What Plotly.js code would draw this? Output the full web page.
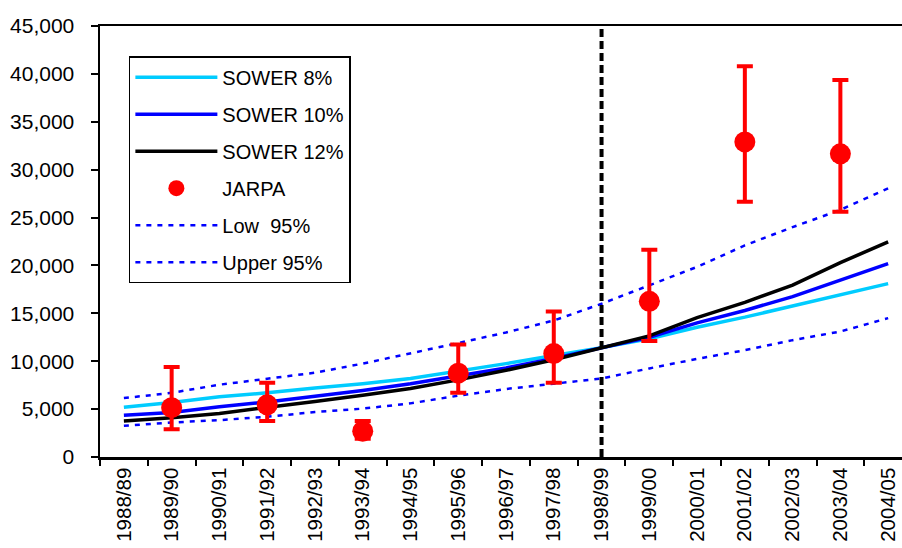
<!DOCTYPE html>
<html>
<head>
<meta charset="utf-8">
<script src="https://cdn.plot.ly/plotly-3.0.1.min.js"></script>
<style>html,body{margin:0;padding:0;background:#fff}#chart{width:902px;height:548px}</style>
</head>
<body>
<div id="chart"></div>
<script>
const seasons = ['1988/89','1989/90','1990/91','1991/92','1992/93','1993/94','1994/95','1995/96','1996/97','1997/98','1998/99','1999/00','2000/01','2001/02','2002/03','2003/04','2004/05'];
const sower8  = [5200,5700,6300,6700,7200,7650,8200,8950,9750,10600,11420,12350,13550,14600,15750,16900,18100];
const sower10 = [4350,4650,5250,5750,6350,6950,7650,8450,9300,10300,11420,12500,14000,15300,16750,18500,20200];
const sower12 = [3750,4100,4550,5150,5800,6450,7150,8050,9050,10150,11420,12650,14550,16150,17950,20300,22450];
const low95   = [3250,3600,3850,4200,4700,5050,5600,6400,7100,7650,8200,9250,10250,11150,12200,13100,14500];
const upper95 = [6150,6700,7550,8200,8800,9750,10800,11900,13000,14250,16000,17900,19850,22100,24000,25800,28050];
const jarpaSeasons = ['1989/90','1991/92','1993/94','1995/96','1997/98','1999/00','2001/02','2003/04'];
const jarpaValues  = [5150,5450,2700,8750,10800,16250,32900,31650];
const jarpaUpper   = [9400,7750,3750,11750,15200,21650,40800,39350];
const jarpaLower   = [2900,3750,1900,6700,7750,12100,26650,25600];
const cutoffSeason = '1998/99';
const yMax = 45000;

const font = 'Liberation Sans, Arial, sans-serif';
const traces = [
  {x: seasons, y: low95, name: 'Low  95%', mode: 'lines', line: {color: '#0000FF', width: 2.5, dash: '5px,6px'}, legendrank: 5, legendgroup: 'e'},
  {x: seasons, y: upper95, name: 'Upper 95%', mode: 'lines', line: {color: '#0000FF', width: 2.5, dash: '5px,6px'}, legendrank: 6, legendgroup: 'f'},
  {x: seasons, y: sower8, name: 'SOWER 8%', mode: 'lines', line: {color: '#00CCFF', width: 3.5}, legendrank: 1, legendgroup: 'a'},
  {x: seasons, y: sower10, name: 'SOWER 10%', mode: 'lines', line: {color: '#0000FF', width: 3.5}, legendrank: 2, legendgroup: 'b'},
  {x: seasons, y: sower12, name: 'SOWER 12%', mode: 'lines', line: {color: '#000000', width: 3.5}, legendrank: 3, legendgroup: 'c'},
  {x: [cutoffSeason, cutoffSeason], y: [0, yMax], mode: 'lines', showlegend: false, hoverinfo: 'skip', line: {color: '#000000', width: 4, dash: '8px,4px'}},
  {x: jarpaSeasons, y: jarpaValues, name: 'JARPA', mode: 'markers', marker: {color: '#FF0000', size: 21},
   error_y: {type: 'data', symmetric: false,
     array: jarpaUpper.map((u, i) => u - jarpaValues[i]),
     arrayminus: jarpaLower.map((l, i) => jarpaValues[i] - l),
     color: '#FF0000', thickness: 4, width: 8},
   legendrank: 4, legendgroup: 'd'}
];

const layout = {
  width: 902, height: 548,
  margin: {l: 100, r: 0, t: 26, b: 91},
  paper_bgcolor: '#fff', plot_bgcolor: '#fff',
  font: {family: font, size: 20, color: '#000'},
  showlegend: true,
  legend: {x: 0.036, y: 0.93, xanchor: 'left', yanchor: 'top', bgcolor: '#fff', bordercolor: '#000', borderwidth: 1.5,
    font: {family: font, size: 20, color: '#000'}, traceorder: 'grouped', tracegroupgap: 8, itemwidth: 82},
  xaxis: {type: 'category', categoryorder: 'array', categoryarray: seasons, range: [-0.5, 16.29],
    showgrid: false, zeroline: false, showline: true, linecolor: '#000', linewidth: 2.5, mirror: true,
    ticks: 'outside', ticklen: 6, tickcolor: '#000', tickwidth: 2, tickson: 'boundaries',
    tickangle: -90, tickfont: {family: font, size: 20.5, color: '#000'}, fixedrange: true},
  yaxis: {range: [0, yMax], dtick: 5000, tickformat: ',d', showgrid: false, zeroline: false,
    showline: true, linecolor: '#000', linewidth: 2.5, ticks: 'outside', ticklen: 7, tickcolor: '#000', tickwidth: 2,
    tickfont: {family: font, size: 21, color: '#000'}, ticklabelstandoff: 12, fixedrange: true}
};

Plotly.newPlot('chart', traces, layout, {displayModeBar: false, staticPlot: true});
</script>
</body>
</html>
